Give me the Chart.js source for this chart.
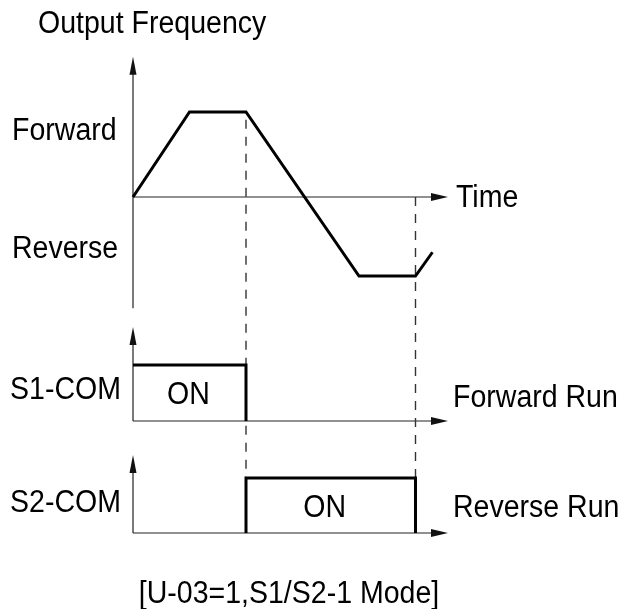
<!DOCTYPE html>
<html lang="en">
<head>
<meta charset="UTF-8">
<title>S1/S2-1 Mode timing</title>
<script src="https://cdn.jsdelivr.net/npm/chart.js@4.4.1/dist/chart.umd.min.js"></script>
<style>
    body { margin: 0; padding: 0; background: #fff; overflow: hidden; }
    .wrap { position: relative; width: 621px; height: 609px; }
</style>
</head>
<body>
<div class="wrap"><canvas id="timing"></canvas></div>
<script>
// waveform data (time in ramp units, frequency relative to forward level)
const freqTime  = [0, 1, 2, 4, 5, 5.3];
const freqValue = [0, 1, 1, -0.93, -0.93, -0.65];

// S1 / S2 contact states (1 = ON)
const s1Time  = [0, 2, 2];
const s1Value = [1, 1, 0];
const s2Time  = [2, 2, 5, 5];
const s2Value = [0, 1, 1, 0];

// dashed marker lines: when S1 opens and S2 opens
const markerTime  = [2, 5];
const markerStart = [0.91, 0];

const titleText   = 'Output Frequency';
const rowLabels   = ['Forward', 'Reverse', 'S1-COM', 'S2-COM'];
const sideLabels  = ['Time', 'Forward Run', 'Reverse Run'];
const onLabel     = 'ON';
const captionText = '[U-03=1,S1/S2-1 Mode]';

// scale layout: pixel of value 0 and pixels per unit
function yRange(zeroPx, unitPx, size) {
    const max = zeroPx / unitPx;
    return { min: max - size / unitPx, max: max };
}
function xRange(zeroPx, unitPx, size) {
    const min = -zeroPx / unitPx;
    return { min: min, max: min + size / unitPx };
}
const W = 621, H = 609;
const xr = xRange(133, 56.5, W);
const yf = yRange(197, 85, H);
const y1 = yRange(421, 56, H);
const y2 = yRange(533, 55, H);

function pts(xs, ys) { return xs.map((x, i) => ({ x: x, y: ys[i] })); }

const FONT = '31px "Liberation Sans", Arial, sans-serif';
const NARROW = 0.92;

// slightly condensed text, like the original drawing
function txt(ctx, s, x, y, align) {
    ctx.save();
    ctx.translate(x, y);
    ctx.scale(NARROW, 1);
    ctx.textAlign = align || 'left';
    ctx.fillText(s, 0, 0);
    ctx.restore();
}

function arrowRight(ctx, x, y) {
    ctx.beginPath();
    ctx.moveTo(x, y);
    ctx.lineTo(x - 17, y - 4);
    ctx.lineTo(x - 17, y + 4);
    ctx.closePath();
    ctx.fill();
}
function arrowUp(ctx, x, y) {
    ctx.beginPath();
    ctx.moveTo(x, y);
    ctx.lineTo(x - 3.5, y + 18);
    ctx.lineTo(x + 3.5, y + 18);
    ctx.closePath();
    ctx.fill();
}

const diagramPlugin = {
    id: 'diagram',
    beforeDatasetsDraw(chart) {
        const ctx = chart.ctx;
        const sx = chart.scales.x;
        const x0 = sx.getPixelForValue(0);
        const xEnd = sx.getPixelForValue(5.575);
        ctx.save();
        ctx.strokeStyle = '#222';
        ctx.fillStyle = '#111';
        ctx.lineWidth = 1.2;
        // axes: [scale id, top value, bottom value]
        const axes = [['yF', 1.65, -1.31], ['yS1', 1.68, 0], ['yS2', 1.42, 0]];
        axes.forEach(a => {
            const s = chart.scales[a[0]];
            const top = s.getPixelForValue(a[1]);
            const bot = s.getPixelForValue(a[2]);
            const zero = s.getPixelForValue(0);
            ctx.beginPath();
            ctx.moveTo(x0, bot);
            ctx.lineTo(x0, top + 10);
            ctx.moveTo(x0, zero);
            ctx.lineTo(xEnd - 10, zero);
            ctx.stroke();
            arrowUp(ctx, x0, top);
            arrowRight(ctx, xEnd, zero);
        });
        // dashed marker lines
        ctx.strokeStyle = '#333';
        ctx.lineWidth = 1.4;
        ctx.setLineDash([9, 8]);
        markerTime.forEach((t, i) => {
            const px = sx.getPixelForValue(t);
            ctx.beginPath();
            ctx.moveTo(px, chart.scales.yF.getPixelForValue(markerStart[i]));
            ctx.lineTo(px, chart.scales.yS2.getPixelForValue(1));
            ctx.stroke();
        });
        ctx.restore();
    },
    afterDraw(chart) {
        const ctx = chart.ctx;
        const sx = chart.scales.x;
        ctx.save();
        ctx.fillStyle = '#000';
        ctx.font = FONT;
        ctx.textBaseline = 'alphabetic';
        txt(ctx, titleText, 38, 33);
        txt(ctx, rowLabels[0], 12, 140);
        txt(ctx, rowLabels[1], 12, 258);
        txt(ctx, rowLabels[2], 10, 399);
        txt(ctx, rowLabels[3], 10, 512);
        txt(ctx, sideLabels[0], 456, 207);
        txt(ctx, sideLabels[1], 453, 407);
        txt(ctx, sideLabels[2], 453, 517);
        txt(ctx, onLabel, (sx.getPixelForValue(s1Time[0]) + sx.getPixelForValue(s1Time[1])) / 2 - 1, 404, 'center');
        txt(ctx, onLabel, (sx.getPixelForValue(s2Time[1]) + sx.getPixelForValue(s2Time[2])) / 2 - 6, 517, 'center');
        txt(ctx, captionText, 289, 603, 'center');
        ctx.restore();
    }
};

const lineStyle = {
    showLine: true,
    borderColor: '#000',
    borderWidth: 3,
    pointRadius: 0,
    tension: 0,
    fill: false,
    borderJoinStyle: 'miter',
    borderCapStyle: 'butt'
};

window.onload = function () {
    new Chart(document.getElementById('timing'), {
        type: 'scatter',
        data: {
            datasets: [
                Object.assign({ label: 'Output Frequency', data: pts(freqTime, freqValue), yAxisID: 'yF' }, lineStyle),
                Object.assign({ label: 'S1-COM', data: pts(s1Time, s1Value), yAxisID: 'yS1' }, lineStyle),
                Object.assign({ label: 'S2-COM', data: pts(s2Time, s2Value), yAxisID: 'yS2' }, lineStyle)
            ]
        },
        options: {
            responsive: true,
            maintainAspectRatio: false,
            animation: false,
            devicePixelRatio: 1,
            layout: { padding: 0 },
            plugins: {
                legend: { display: false },
                tooltip: { enabled: false },
                title: { display: false }
            },
            scales: {
                x:   { type: 'linear', display: false, min: xr.min, max: xr.max },
                yF:  { type: 'linear', display: false, min: yf.min, max: yf.max },
                yS1: { type: 'linear', display: false, min: y1.min, max: y1.max },
                yS2: { type: 'linear', display: false, min: y2.min, max: y2.max }
            }
        },
        plugins: [diagramPlugin]
    });
};
</script>
</body>
</html>
